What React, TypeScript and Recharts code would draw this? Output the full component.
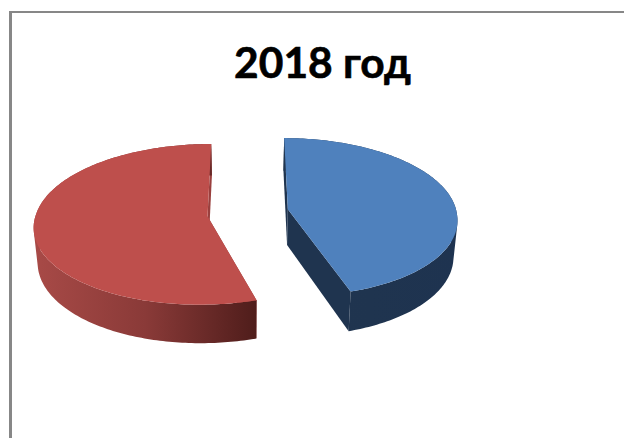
import React from 'react';
import { PieChart, Pie } from 'recharts';

const title = '2018 год';
const categories = ['Часть 1', 'Часть 2'];
const values = [45.2, 54.8];

const W = 624;
const H = 438;
const RAD = Math.PI / 180;
const TILT = 79 / 169; // vertical squash of the pie plane
const PERSPECTIVE = 0.1; // near edge bigger, far edge smaller
const CONVERGE = 0.09; // exploded slices spread further apart towards the viewer
const BOTTOM_SCALE = 0.981; // bottom face looks slightly narrower

const looks = [
  { top: '#4F81BD', wall: 'url(#wall0)', face: '#1F344F', ex: 0.243, ey: 0.055, rx: 1, depth: 36, stops: ['#20354F', '#1F344F', '#1E3350'] },
  { top: '#BE4F4C', wall: 'url(#wall1)', face: '#9A403E', ex: -0.232, ey: -0.035, rx: 1.015, depth: 34.5, stops: ['#A84A47', '#8A3A38', '#4F1D1B'] },
];

function Slice3D(props: any) {
  const { cx, cy, outerRadius, startAngle, endAngle, index } = props;
  const look = looks[index % looks.length];
  const a = outerRadius;
  const b = outerRadius * TILT;

  const project = (du: number, dv: number, lower: boolean): [number, number] => {
    const v = look.ey + dv;
    const s = 1 / (1 + PERSPECTIVE * v);
    const sx = s + (v < 0 ? -CONVERGE * v : 0);
    const x = cx + a * (look.ex * sx + du * look.rx * s) * (lower ? BOTTOM_SCALE : 1);
    const y = cy + (-b * v + (lower ? look.depth : 0)) * s;
    return [x, y];
  };
  const rim = (deg: number, lower: boolean) => project(Math.cos(deg * RAD), Math.sin(deg * RAD), lower);
  const apex = (lower: boolean) => project(0, 0, lower);

  const n = Math.max(2, Math.ceil(Math.abs(startAngle - endAngle)));
  const angles: number[] = [];
  for (let i = 0; i <= n; i++) angles.push(startAngle + ((endAngle - startAngle) * i) / n);

  const toPath = (pts: [number, number][]) =>
    'M' + pts.map((p) => `${p[0].toFixed(2)},${p[1].toFixed(2)}`).join('L') + 'Z';

  // every strip of the wall is its own subpath, all wound the same way, so the
  // silhouette at the left and right extremes has no notch and there are no seams
  const orient = (pts: [number, number][]) => {
    let area = 0;
    pts.forEach((p, i) => {
      const q = pts[(i + 1) % pts.length];
      area += p[0] * q[1] - q[0] * p[1];
    });
    return area < 0 ? pts.slice().reverse() : pts;
  };

  const topPath = toPath([apex(false), ...angles.map((d) => rim(d, false))]);
  const wallPath = angles
    .slice(1)
    .map((d, i) => toPath(orient([rim(angles[i], false), rim(d, false), rim(d, true), rim(angles[i], true)])))
    .join('');
  const faceStart = toPath([apex(false), rim(startAngle, false), rim(startAngle, true), apex(true)]);
  const faceEnd = toPath([apex(false), rim(endAngle, false), rim(endAngle, true), apex(true)]);

  const xs = angles.map((d) => rim(d, false)[0]);
  const front = angles.filter((d) => Math.sin(d * RAD) < 0).map((d) => rim(d, false)[0]);
  const x1 = Math.min(...xs);
  const x2 = Math.max(...(front.length ? front : xs));

  return (
    <g>
      <defs>
        <linearGradient id={`wall${index}`} gradientUnits="userSpaceOnUse" x1={x1} x2={x2} y1={0} y2={0}>
          <stop offset="0" stopColor={look.stops[0]} />
          <stop offset="0.5" stopColor={look.stops[1]} />
          <stop offset="1" stopColor={look.stops[2]} />
        </linearGradient>
      </defs>
      <path d={faceStart} fill={look.face} />
      <path d={faceEnd} fill={look.face} />
      <path d={wallPath} fill={look.wall} />
      <path d={topPath} fill={look.top} />
    </g>
  );
}

const tableData = categories.map((name, i) => ({ name, value: values[i] }));

export default function App() {
  return (
    <div style={{ position: 'absolute', left: 0, top: 0, width: W, height: H, overflow: 'hidden', background: '#fff' }}>
      <div
        style={{
          position: 'absolute',
          left: 9,
          top: 11,
          width: W - 9,
          height: H - 11,
          boxSizing: 'border-box',
          borderLeft: '3px solid #878787',
          borderTop: '2px solid #878787',
        }}
      />
      <div style={{ position: 'absolute', left: 0, top: 0 }}>
        <PieChart width={W} height={H} margin={{ top: 0, right: 0, bottom: 0, left: 0 }}>
          <text
            x={322.5}
            y={78}
            textAnchor="middle"
            fontFamily="Lato, 'Open Sans', sans-serif"
            fontWeight={700}
            fontSize={42.5}
            stroke="#000"
            strokeWidth={0.6}
            fill="#000"
          >
            {title}
          </text>
          <Pie
            data={tableData}
            dataKey="value"
            nameKey="name"
            cx={247}
            cy={213.5}
            innerRadius={0}
            outerRadius={169}
            startAngle={90}
            endAngle={-270}
            stroke="none"
            isAnimationActive={false}
            shape={Slice3D}
          />
        </PieChart>
      </div>
    </div>
  );
}
